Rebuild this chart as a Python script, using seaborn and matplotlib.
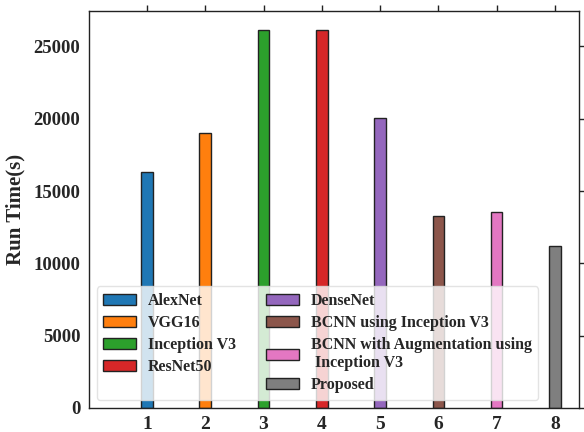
import matplotlib
matplotlib.use("Agg")
import matplotlib.pyplot as plt
import seaborn as sns
import pandas as pd

models = ["AlexNet", "VGG16", "Inception V3", "ResNet50", "DenseNet",
          "BCNN using Inception V3",
          "BCNN with Augmentation using\n Inception V3", "Proposed"]
positions = [1, 2, 3, 4, 5, 6, 7, 8]
run_time = [16350, 19020, 26150, 26150, 20050, 13250, 13550, 11220]
yticks = [0, 5000, 10000, 15000, 20000, 25000]

sns.set_style("white")
plt.rcParams['font.family'] = ['Liberation Serif', 'DejaVu Serif']
plt.rcParams['font.weight'] = 'bold'

df = pd.DataFrame({"pos": positions, "time": run_time, "model": models})
palette = sns.color_palette("tab10", 8)

fig = plt.figure(figsize=(5.84, 4.32), dpi=100)
ax = fig.add_axes([0.152, 0.056, 0.839, 0.919])
sns.barplot(data=df, x="pos", y="time", hue="model", hue_order=models,
            palette=palette, saturation=1, native_scale=True, dodge=False, width=0.2,
            edgecolor="#222222", linewidth=1.0, ax=ax, legend=True)

ax.set_xlim(0.0, 8.41)
ax.set_ylim(0, 27470)
ax.set_xticks(positions)
ax.set_xticklabels([str(p) for p in positions], fontsize=14, fontweight='bold')
ax.set_yticks(yticks)
ax.set_yticklabels([str(v) for v in yticks], fontsize=13.5, fontweight='bold')
ax.set_xlabel("")
ax.set_ylabel("Run Time(s)", fontsize=15, fontweight='bold', labelpad=6)
ax.tick_params(direction='out', top=True, right=True, length=4, width=1,
               color='#222222', pad=2)
for s in ax.spines.values():
    s.set_visible(True)
    s.set_color('#222222')
    s.set_linewidth(1.0)

handles, labels = ax.get_legend_handles_labels()
ax.legend(handles, labels, ncol=2, loc='lower left',
          prop={'family': 'Liberation Serif', 'weight': 'bold', 'size': 11.5},
          frameon=True, fancybox=True, framealpha=0.8, edgecolor='#dddddd',
          columnspacing=1.9, labelspacing=0.38, handletextpad=0.75,
          handlelength=2.05)

fig.savefig("out.png", dpi=100)
